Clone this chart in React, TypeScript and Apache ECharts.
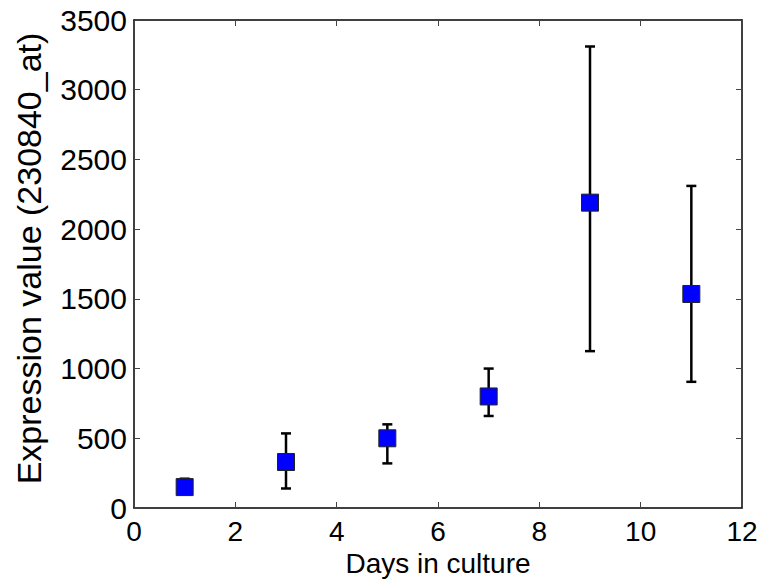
import React, { useEffect, useRef } from "react";
import * as echarts from "echarts";

const days = [1, 3, 5, 7, 9, 11];
const means = [150, 330, 500, 800, 2190, 1535];
const lower = [100, 140, 320, 660, 1125, 905];
const upper = [210, 535, 600, 1000, 3310, 2310];
const xTicks = [0, 2, 4, 6, 8, 10, 12];
const yTicks = [0, 500, 1000, 1500, 2000, 2500, 3000, 3500];

const FONT = "Liberation Sans, Arial, Helvetica, sans-serif";

export default function App() {
  const ref = useRef<HTMLDivElement>(null);
  useEffect(() => {
    if (!ref.current) return;
    const chart = echarts.init(ref.current, undefined, { renderer: "svg" });
    const axisLine = { show: true, onZero: false, lineStyle: { color: "#000", width: 1.5 } };
    const tick = { show: true, inside: true, length: 6, lineStyle: { color: "#444", width: 1 } };
    const errData = days.map((d, i) => [d, lower[i], upper[i]]);
    const fmt = (v: number) => String(v);
    chart.setOption({
      animation: false,
      backgroundColor: "#fff",
      grid: { left: 134, right: 20, top: 20, bottom: 72, containLabel: false, outerBoundsMode: "none" },
      xAxis: [
        {
          type: "value",
          min: xTicks[0],
          max: xTicks[xTicks.length - 1],
          interval: 2,
          position: "bottom",
          axisLine,
          axisTick: tick,
          splitLine: { show: false },
          axisLabel: { color: "#000", fontSize: 28, lineHeight: 28, fontFamily: FONT, margin: 9, formatter: fmt },
          name: "Days in culture",
          nameLocation: "middle",
          nameGap: 41,
          nameMoveOverlap: false,
          nameTextStyle: { color: "#000", fontSize: 28, lineHeight: 28, fontFamily: FONT },
        },
        {
          type: "value",
          min: xTicks[0],
          max: xTicks[xTicks.length - 1],
          interval: 2,
          position: "top",
          axisLine,
          axisTick: tick,
          splitLine: { show: false },
          axisLabel: { show: false },
        },
      ],
      yAxis: [
        {
          type: "value",
          min: yTicks[0],
          max: yTicks[yTicks.length - 1],
          interval: 500,
          position: "left",
          axisLine,
          axisTick: tick,
          splitLine: { show: false },
          axisLabel: { color: "#000", fontSize: 30, fontFamily: FONT, margin: 7, formatter: fmt },
          name: "Expression value (230840_at)",
          nameLocation: "middle",
          nameGap: 88,
          nameMoveOverlap: false,
          nameTextStyle: { color: "#000", fontSize: 34, fontFamily: FONT, padding: [0, 0, 0, 11] },
        },
        {
          type: "value",
          min: yTicks[0],
          max: yTicks[yTicks.length - 1],
          interval: 500,
          position: "right",
          axisLine,
          axisTick: tick,
          splitLine: { show: false },
          axisLabel: { show: false },
        },
      ],
      series: [
        {
          type: "custom",
          xAxisIndex: 0,
          yAxisIndex: 0,
          z: 2,
          encode: { x: 0, y: [1, 2] },
          data: errData,
          renderItem: (params: any, api: any) => {
            const x = api.value(0);
            const lo = api.coord([x, api.value(1)]);
            const hi = api.coord([x, api.value(2)]);
            const hw = 5;
            const style = { stroke: "#000", lineWidth: 2.5 };
            return {
              type: "group",
              children: [
                { type: "line", shape: { x1: lo[0], y1: lo[1], x2: hi[0], y2: hi[1] }, style },
                { type: "line", shape: { x1: lo[0] - hw, y1: lo[1], x2: lo[0] + hw, y2: lo[1] }, style },
                { type: "line", shape: { x1: hi[0] - hw, y1: hi[1], x2: hi[0] + hw, y2: hi[1] }, style },
              ],
            };
          },
        },
        {
          type: "scatter",
          xAxisIndex: 0,
          yAxisIndex: 0,
          z: 3,
          symbol: "rect",
          symbolSize: 17,
          itemStyle: { color: "#0000ff", borderColor: "#222", borderWidth: 1, opacity: 1 },
          data: days.map((d, i) => [d, means[i]]),
        },
      ],
    });
    return () => chart.dispose();
  }, []);
  return <div ref={ref} style={{ width: 762, height: 580, position: "absolute", left: 0, top: 0 }} />;
}
